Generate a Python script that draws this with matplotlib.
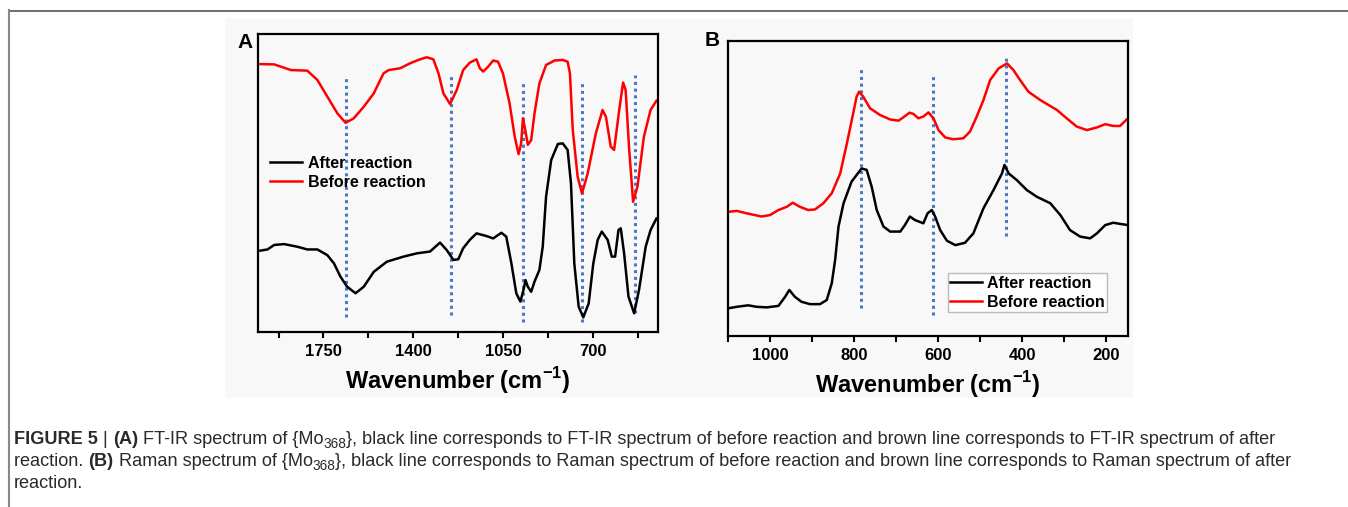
import matplotlib
matplotlib.use('Agg')
import matplotlib.pyplot as plt
from matplotlib import font_manager
from matplotlib.lines import Line2D
from matplotlib.patches import Rectangle
from matplotlib.transforms import IdentityTransform
from matplotlib.ticker import FixedLocator

plt.rcParams['font.family'] = ['Liberation Sans', 'DejaVu Sans']
plt.rcParams['mathtext.fontset'] = 'custom'
plt.rcParams['mathtext.rm'] = 'Liberation Sans'
plt.rcParams['mathtext.bf'] = 'Liberation Sans:bold'

# FT-IR (panel A)
ir_after_wn = [1996, 1968, 1942, 1903, 1851, 1813, 1774, 1735, 1709, 1684, 1658, 1625, 1593, 1554, 1503,
               1438, 1386, 1335, 1296, 1270, 1244, 1225, 1206, 1180, 1154, 1115, 1089, 1057, 1038, 1018,
               999, 983, 971, 963, 954, 941, 928, 909, 896, 883, 863, 837, 818, 799, 786, 773, 756, 738,
               717, 699, 682, 666, 643, 627, 614, 601, 592, 579, 562, 540, 521, 495, 476, 453]
ir_after = [27.3, 27.7, 29.2, 29.5, 28.6, 27.7, 27.7, 25.8, 23.0, 18.6, 15.2, 13.0, 15.2, 20.2, 23.6,
            25.3, 26.4, 27.0, 30.0, 27.5, 24.2, 24.4, 28.1, 30.9, 33.1, 32.2, 31.4, 33.3, 32.0, 23.0,
            13.0, 10.2, 14.1, 17.4, 15.2, 13.5, 16.9, 20.8, 28.6, 45.4, 57.7, 63.1, 63.3, 61.1, 49.9,
            23.0, 8.5, 4.9, 9.6, 23.0, 30.9, 33.7, 30.9, 25.3, 25.3, 34.2, 34.8, 26.4, 11.9, 6.3,
            14.1, 28.6, 34.2, 38.1]
ir_before_wn = [1996, 1942, 1877, 1813, 1774, 1735, 1696, 1664, 1632, 1593, 1554, 1516, 1496, 1451, 1412,
                1374, 1348, 1322, 1302, 1283, 1257, 1231, 1206, 1180, 1154, 1141, 1128, 1109, 1089, 1070,
                1051, 1025, 1005, 990, 980, 973, 964, 954, 941, 928, 909, 883, 850, 818, 799, 790, 779,
                760, 743, 721, 689, 663, 650, 631, 618, 598, 583, 573, 560, 544, 527, 502, 476, 453]
ir_before = [89.9, 89.8, 87.9, 87.7, 84.6, 79.0, 73.4, 70.2, 71.7, 75.6, 80.1, 86.8, 87.9, 88.5, 90.2,
             91.5, 92.2, 91.5, 86.8, 80.1, 76.5, 81.2, 87.9, 90.4, 91.5, 88.5, 87.4, 89.0, 91.1, 90.7,
             86.8, 76.7, 65.5, 59.7, 63.3, 71.7, 67.8, 62.8, 64.4, 73.4, 83.4, 89.6, 91.1, 91.3, 90.7,
             86.8, 67.8, 52.1, 46.5, 53.2, 66.7, 74.5, 72.3, 62.2, 61.1, 74.5, 83.7, 81.2, 62.2, 43.7,
             48.8, 65.5, 74.5, 77.6]
ir_marks = [1664, 1255, 973, 743, 538]
ir_marks_top = [85.7, 86.2, 84.0, 84.0, 86.2]
ir_marks_bot = [5.1, 5.7, 3.5, 3.5, 6.3]
ir_ticks = [1750, 1400, 1050, 700]
ir_minor = [1925, 1575, 1225, 875, 525]

# Raman (panel B)
ra_after_wn = [1099, 1079, 1052, 1032, 1008, 980, 964, 954, 941, 925, 905, 881, 865, 853, 845, 837, 825,
               806, 782, 770, 758, 746, 730, 714, 690, 679, 667, 655, 635, 625, 615, 607, 595, 579, 559,
               536, 516, 492, 468, 448, 442, 432, 413, 389, 365, 333, 309, 286, 262, 238, 222, 202, 183,
               167, 148]
ra_after = [9.4, 9.9, 10.4, 9.9, 9.7, 10.2, 13.3, 15.6, 13.3, 11.6, 10.8, 10.8, 12.2, 17.9, 25.8, 37.1,
            45.0, 52.3, 56.8, 56.3, 50.6, 42.7, 37.1, 35.4, 35.4, 37.6, 40.5, 39.3, 38.2, 41.6, 42.7,
            40.5, 35.9, 32.3, 30.8, 31.6, 34.8, 43.3, 49.5, 55.1, 58.0, 55.1, 52.9, 49.5, 47.2, 45.0,
            41.0, 35.9, 33.7, 33.1, 34.8, 37.6, 38.4, 38.0, 37.6]
ra_before_wn = [1099, 1079, 1056, 1020, 1000, 980, 960, 946, 929, 909, 893, 873, 853, 833, 817, 802, 794,
                788, 778, 762, 738, 714, 694, 683, 668, 659, 647, 635, 623, 611, 599, 583, 564, 540, 524,
                508, 492, 476, 456, 436, 421, 405, 385, 357, 317, 294, 270, 246, 222, 202, 183, 167, 148]
ra_before = [42.1, 42.4, 41.6, 40.5, 41.0, 42.7, 43.8, 45.2, 43.8, 42.7, 42.9, 45.0, 48.4, 55.1, 65.3,
             75.5, 81.1, 82.8, 81.1, 77.2, 74.9, 73.4, 73.0, 74.1, 75.7, 75.3, 73.8, 74.4, 75.8, 73.8,
             69.8, 67.3, 66.7, 67.0, 69.3, 74.4, 80.0, 86.8, 90.7, 92.4, 90.2, 86.8, 82.8, 80.0, 76.6,
             73.8, 71.0, 69.8, 70.7, 71.8, 71.2, 71.2, 73.8]
ra_marks = [784, 613, 439]
ra_marks_top = [90.7, 88.5, 95.3]
ra_marks_bot = [9.4, 7.1, 33.9]
ra_ticks = [1000, 800, 600, 400, 200]
ra_minor = [1100, 900, 700, 500, 300]

W, H = 1348, 507
fig = plt.figure(figsize=(W / 100, H / 100), dpi=100)
fig.patch.set_facecolor('white')

# light grey picture area and the page frame
fig.add_artist(Rectangle((225 / W, 1 - 398 / H), 908 / W, 380 / H, transform=fig.transFigure,
                         facecolor='#f8f8f8', edgecolor='none', zorder=0))
fig.add_artist(Line2D([9 / W, 1], [1 - 10.5 / H, 1 - 10.5 / H], transform=fig.transFigure,
                      color='#555555', lw=1.2))
fig.add_artist(Line2D([9 / W, 9 / W], [1 - 10 / H, 0], transform=fig.transFigure,
                      color='#888888', lw=1.5))

axA = fig.add_axes([258 / W, 1 - 332 / H, 400 / W, 298 / H])
axB = fig.add_axes([728 / W, 1 - 336 / H, 400 / W, 295 / H])

blue = '#4a78c6'


def style(ax, xlim, major, minor):
    ax.set_facecolor('none')
    ax.set_xlim(*xlim)
    ax.set_ylim(0, 100)
    ax.set_yticks([])
    ax.xaxis.set_major_locator(FixedLocator(major))
    ax.xaxis.set_minor_locator(FixedLocator(minor))
    ax.tick_params(axis='x', which='both', direction='out', length=4, width=1.5, pad=5)
    for lab in ax.get_xticklabels():
        lab.set_fontsize(12)
        lab.set_fontweight('bold')
    for s in ax.spines.values():
        s.set_linewidth(1.6)
    ax.set_xlabel(r'Wavenumber (cm$^{\mathbf{-1}}$)', fontsize=17, fontweight='bold', labelpad=4)


# A
axA.vlines(ir_marks, ir_marks_bot, ir_marks_top, colors=blue, linestyles=(0, (1, 1.2)), lw=2.2, zorder=1)
axA.plot(ir_after_wn, ir_after, color='black', lw=1.8, label='After reaction', zorder=2)
axA.plot(ir_before_wn, ir_before, color='red', lw=1.8, label='Before reaction', zorder=2)
style(axA, (2005, 447), ir_ticks, ir_minor)
axA.legend(loc='center left', bbox_to_anchor=(0.03, 0.535), frameon=False, borderpad=0, borderaxespad=0,
           handlelength=2.0, handletextpad=0.4, labelspacing=0.25,
           prop={'weight': 'bold', 'size': 11.5})
fig.text(245 / W, 1 - 42 / H, 'A', fontsize=15, fontweight='bold', ha='center', va='center')

# B
axB.vlines(ra_marks, ra_marks_bot, ra_marks_top, colors=blue, linestyles=(0, (1, 1.2)), lw=2.2, zorder=1)
axB.plot(ra_after_wn, ra_after, color='black', lw=1.8, label='After reaction', zorder=2)
axB.plot(ra_before_wn, ra_before, color='red', lw=1.8, label='Before reaction', zorder=2)
style(axB, (1100, 148), ra_ticks, ra_minor)
legB = axB.legend(loc='lower right', bbox_to_anchor=(0.9475, 0.081), frameon=True, fancybox=False,
                  borderpad=0.15, borderaxespad=0, handlelength=2.0, handletextpad=0.3, labelspacing=0.25,
                  prop={'weight': 'bold', 'size': 11.5})
legB.get_frame().set_edgecolor('#aaaaaa')
legB.get_frame().set_linewidth(1.0)
fig.text(712 / W, 1 - 40 / H, 'B', fontsize=15, fontweight='bold', ha='center', va='center')

# caption
names = [f.name for f in font_manager.fontManager.ttflist]
cap_font = 'Liberation Sans Narrow' if 'Liberation Sans Narrow' in names else 'Liberation Sans'
cap_size = 13.1
cap_lines = [
    [('FIGURE 5', 'bold'), (' | ', 'normal'), ('(A)', 'bold'),
     (' FT-IR spectrum of {Mo', 'normal'), ('368', 'sub'),
     ('}, black line corresponds to FT-IR spectrum of before reaction and brown line corresponds to FT-IR spectrum of after', 'normal')],
    [('reaction. ', 'normal'), ('(B)', 'bold'), (' Raman spectrum of {Mo', 'normal'), ('368', 'sub'),
     ('}, black line corresponds to Raman spectrum of before reaction and brown line corresponds to Raman spectrum of after', 'normal')],
    [('reaction.', 'normal')],
]
cap_y = [440, 462, 484]

renderer = fig.canvas.get_renderer()
for runs, yy in zip(cap_lines, cap_y):
    x = 14
    for txt, kind in runs:
        size = cap_size * 0.75 if kind == 'sub' else cap_size
        dy = -4 if kind == 'sub' else 0
        t = fig.text(x, H - yy + dy, txt, transform=IdentityTransform(), fontsize=size,
                     fontweight='bold' if kind == 'bold' else 'normal', family=cap_font,
                     color='#2a2a2a', va='center', ha='left')
        x += t.get_window_extent(renderer).width

fig.savefig('out.png', dpi=100)
